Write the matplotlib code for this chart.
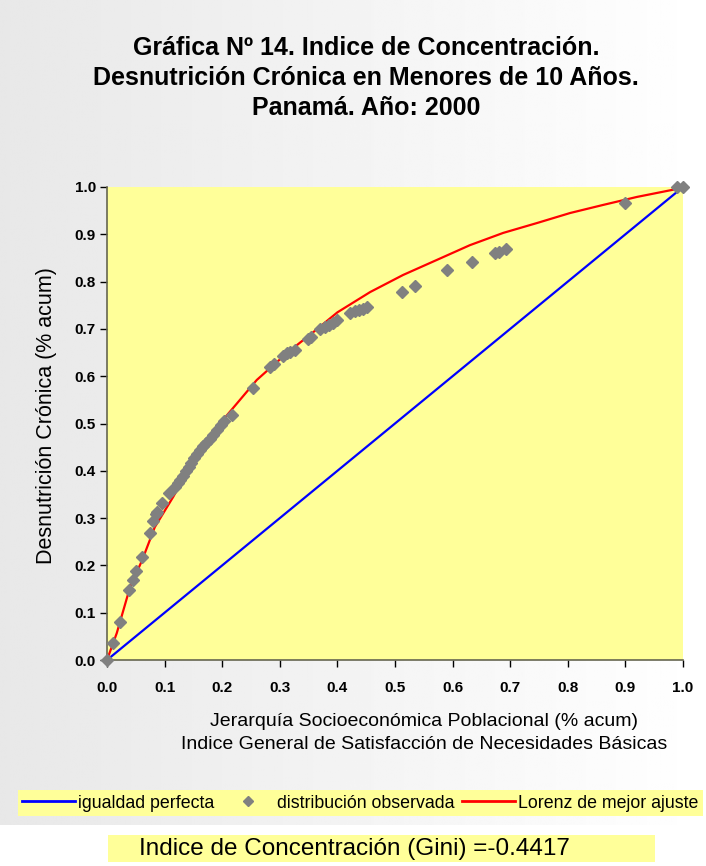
import numpy as np
import matplotlib
matplotlib.use("Agg")
from matplotlib import pyplot as plt
from matplotlib.lines import Line2D
from matplotlib.patches import Rectangle

plt.rcParams['font.family'] = ['Liberation Sans', 'DejaVu Sans']

x_obs = [0.000, 0.010, 0.023, 0.038, 0.045, 0.050, 0.061, 0.075, 0.080, 0.085,
         0.087, 0.095, 0.108, 0.118, 0.123, 0.127, 0.132, 0.137, 0.142, 0.146,
         0.151, 0.156, 0.161, 0.167, 0.172, 0.179, 0.184, 0.191, 0.198, 0.203,
         0.217, 0.253, 0.283, 0.290, 0.305, 0.312, 0.318, 0.326, 0.349, 0.354,
         0.370, 0.378, 0.386, 0.393, 0.400, 0.422, 0.430, 0.437, 0.445, 0.452,
         0.512, 0.535, 0.590, 0.634, 0.674, 0.681, 0.693, 0.899, 0.990, 1.000]
y_obs = [0.000, 0.036, 0.080, 0.148, 0.169, 0.188, 0.218, 0.268, 0.294, 0.308,
         0.312, 0.332, 0.353, 0.366, 0.375, 0.381, 0.389, 0.400, 0.408, 0.416,
         0.427, 0.436, 0.444, 0.452, 0.459, 0.467, 0.476, 0.486, 0.497, 0.505,
         0.518, 0.575, 0.620, 0.625, 0.643, 0.648, 0.652, 0.655, 0.679, 0.682,
         0.700, 0.704, 0.708, 0.713, 0.718, 0.733, 0.737, 0.740, 0.743, 0.746,
         0.778, 0.791, 0.824, 0.842, 0.860, 0.862, 0.869, 0.966, 1.000, 1.000]

# fitted Lorenz curve
x_fit = [0, 0.017, 0.040, 0.061, 0.083, 0.115, 0.14, 0.17, 0.201, 0.26, 0.295,
         0.33, 0.358, 0.40, 0.457, 0.514, 0.573, 0.63, 0.688, 0.747, 0.804,
         0.861, 0.92, 0.99, 1.0]
y_fit = [0, 0.057, 0.154, 0.211, 0.281, 0.345, 0.40, 0.455, 0.507, 0.592, 0.630,
         0.666, 0.693, 0.735, 0.778, 0.814, 0.846, 0.877, 0.903, 0.924, 0.945,
         0.962, 0.979, 0.996, 1.0]

x_eq = [0, 1]
y_eq = [0, 1]
gini = -0.4417

W, H = 706, 866
fig = plt.figure(figsize=(W / 100, H / 100), dpi=100)
fig.patch.set_facecolor('white')

# light gray-to-white gradient behind chart area
bg = fig.add_axes([0, 1 - 825 / H, 1, 825 / H], zorder=-10)
grad = np.linspace(0, 1, 256)
g = np.outer(np.ones(10), grad)
bg.imshow(g, aspect='auto', cmap='gray', vmin=-10.0, vmax=1.0, extent=[0, 1, 0, 1])
bg.axis('off')

ax = fig.add_axes([107 / W, 1 - 660 / H, 576 / W, 473 / H])
ax.set_facecolor('#FFFF99')
ax.plot(x_eq, y_eq, color='#0000FF', lw=1.6, zorder=2)
ax.plot(x_fit, y_fit, color='#FF0000', lw=1.6, zorder=3)
ax.plot(x_obs, y_obs, ls='none', marker='D', ms=6.5, color='#808080',
        mec='#808080', zorder=4, clip_on=False)

ax.set_xlim(0, 1)
ax.set_ylim(0, 1)
ticks = np.arange(0, 1.01, 0.1)
ax.set_xticks(ticks)
ax.set_yticks(ticks)
ax.set_xticklabels([f"{t:.1f}" for t in ticks], fontweight='bold', fontsize=11)
ax.set_yticklabels([f"{t:.1f}" for t in ticks], fontweight='bold', fontsize=11)
ax.tick_params(direction='out', length=5, width=1, color='black')
ax.tick_params(axis='x', pad=10)
ax.tick_params(axis='y', pad=3)
for s in ['top', 'right']:
    ax.spines[s].set_visible(False)
for s in ['left', 'bottom']:
    ax.spines[s].set_color('#666650')
    ax.spines[s].set_linewidth(1.2)

fig.text(366 / W, 1 - 78 / H,
         "Gráfica Nº 14. Indice de Concentración.\n"
         "Desnutrición Crónica en Menores de 10 Años.\n"
         "Panamá. Año: 2000",
         ha='center', va='center', fontsize=18, fontweight='bold',
         linespacing=1.3)

fig.text(47 / W, 1 - 416 / H, "Desnutrición Crónica (% acum)", rotation=90,
         ha='center', va='center', fontsize=15.5)
fig.text(424 / W, 1 - 733 / H,
         "Jerarquía Socioeconómica Poblacional (% acum)\n"
         "Indice General de Satisfacción de Necesidades Básicas",
         ha='center', va='center', fontsize=14, linespacing=1.4)

# legend strip
fig.patches.append(Rectangle((18 / W, 1 - 816 / H), 685 / W, 26 / H,
                             transform=fig.transFigure, facecolor='#FFFF99',
                             edgecolor='none', zorder=0))
handles = [Line2D([], [], color='#0000FF', lw=2),
           Line2D([], [], ls='none', marker='D', ms=5, color='#808080'),
           Line2D([], [], color='#FF0000', lw=2)]
labels = ['igualdad perfecta', 'distribución observada', 'Lorenz de mejor ajuste']
leg = fig.legend(handles, labels, loc='center', bbox_to_anchor=(360 / W, 1 - 803 / H),
                 ncol=3, frameon=False, fontsize=12.8, handlelength=3.0,
                 handletextpad=0.15, columnspacing=0.4, borderpad=0.2)

# Gini box
fig.patches.append(Rectangle((108 / W, 1 - 862 / H), 547 / W, 27 / H,
                             transform=fig.transFigure, facecolor='#FFFF99',
                             edgecolor='none', zorder=0))
fig.text(354 / W, 1 - 849 / H, f"Indice de Concentración (Gini) ={gini}",
         ha='center', va='center', fontsize=17.5)

fig.savefig('out.png', dpi=100)
